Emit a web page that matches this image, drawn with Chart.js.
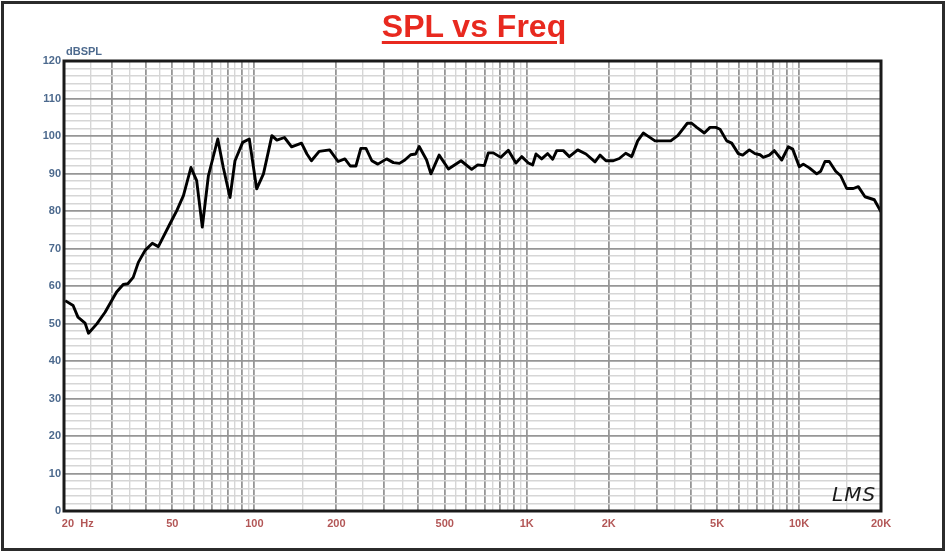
<!DOCTYPE html>
<html>
<head>
<meta charset="utf-8">
<script src="https://cdn.jsdelivr.net/npm/chart.js@4"></script>
<style>
html,body{margin:0;padding:0;background:#fff;}
#wrap{position:relative;width:948px;height:552px;overflow:hidden;background:#fff;}
#frame{position:absolute;left:1px;top:1px;width:944px;height:550px;box-sizing:border-box;border:3px solid #2b2b2b;}
#c{position:absolute;left:0;top:0;}
#title{position:absolute;left:0;top:8px;width:948px;text-align:center;font:bold 32px "Liberation Sans",Arial,sans-serif;color:#e8291f;text-decoration:underline;text-decoration-thickness:3px;text-underline-offset:4px;white-space:nowrap;}
#unit{position:absolute;left:66px;top:45px;font:bold 11px "Liberation Sans",Arial,sans-serif;color:#4d6a8e;}
#logo{position:absolute;left:832px;top:482px;font:italic 200 20px "DejaVu Sans",sans-serif;color:#1a1a1a;letter-spacing:1px;}
</style>
</head>
<body>
<div id="wrap">
  <canvas id="c" width="948" height="552"></canvas>
  <div id="frame"></div>
  <div id="title">SPL vs Freq</div>
  <div id="unit">dBSPL</div>
  <div id="logo">LMS</div>
</div>
<script>
// ---- data ----
const freqHz = [
  20.2, 21.6, 22.5, 23.9, 24.6, 26.4, 28.3, 31.2, 33.0, 34.3, 35.9, 37.5, 39.7, 42.2, 44.4,
  49.0, 51.9, 54.9, 58.5, 61.4, 64.4, 67.8, 73.4, 76.9, 81.4, 84.9, 90.6, 95.8, 102, 108,
  116, 121, 129, 137, 149, 156, 162, 173, 189, 203, 215, 225, 236, 246, 257, 270, 284,
  306, 324, 341, 357, 375, 391, 403, 429, 445, 477, 516, 574, 628, 661, 699, 723, 754,
  803, 856, 913, 959, 1014, 1052, 1082, 1135, 1194, 1246, 1289, 1363, 1434, 1539, 1651,
  1782, 1859, 1955, 2080, 2188, 2310, 2430, 2556, 2680, 2796, 2959, 3158, 3380, 3586,
  3889, 4036, 4211, 4490, 4712, 4944, 5127, 5426, 5660, 5985, 6212, 6568, 6893, 7190,
  7394, 7779, 8115, 8639, 9135, 9481, 10024, 10369, 10908, 11612, 12011, 12456, 12917,
  13635, 14224, 14964, 15823, 16507, 17469, 18899, 20000
];
const splDb = [
  56.1, 54.8, 51.7, 50.1, 47.4, 49.9, 53.0, 58.4, 60.4, 60.6, 62.3, 66.3, 69.5, 71.4, 70.5,
  76.6, 80.1, 84.1, 91.6, 88.1, 75.7, 89.4, 99.2, 91.6, 83.6, 93.4, 98.3, 99.2, 85.9, 89.9,
  100.1, 98.9, 99.6, 97.1, 98.1, 95.2, 93.4, 95.9, 96.3, 93.2, 93.9, 92.0, 92.0, 96.7, 96.7, 93.4, 92.5,
  93.9, 92.9, 92.7, 93.6, 95.0, 95.2, 97.2, 93.6, 89.9, 94.9, 91.2, 93.4, 91.1, 92.3, 92.1, 95.5, 95.5,
  94.3, 96.2, 92.8, 94.5, 92.8, 92.3, 95.2, 93.9, 95.3, 93.8, 96.1, 96.1, 94.5, 96.3, 95.2,
  93.1, 94.9, 93.4, 93.4, 94.0, 95.4, 94.5, 98.7, 100.8, 99.9, 98.7, 98.7, 98.7, 100.1,
  103.4, 103.4, 102.3, 100.8, 102.3, 102.3, 101.8, 98.7, 98.1, 95.3, 94.9, 96.3, 95.3, 95.0,
  94.3, 94.9, 96.1, 93.6, 97.1, 96.5, 91.8, 92.5, 91.5, 89.9, 90.6, 93.2, 93.2,
  90.6, 89.4, 86.0, 86.0, 86.5, 83.8, 83.0, 79.8
];
const xTickValues = [20, 50, 100, 200, 500, 1000, 2000, 5000, 10000, 20000];
const xTickLabels = ['         20  Hz', '50', '100', '200', '500', '1K', '2K', '5K', '10K', '20K'];
const yTickValues = [0, 10, 20, 30, 40, 50, 60, 70, 80, 90, 100, 110, 120];
const yTickLabels = ['0', '10', '20', '30', '40', '50', '60', '70', '80', '90', '100', '110', '120'];

// ---- grid positions (styling) ----
const xGrid = [];
for (let dec = 10; dec <= 10000; dec *= 10) {
  for (let m = 1; m <= 9; m++) {
    [m, m + 0.5].forEach(k => {
      const v = Math.round(k * dec * 10) / 10;
      if (v >= 20 && v <= 20000) xGrid.push(v);
    });
  }
}
xGrid.sort((a, b) => a - b);
const yGrid = [];
for (let v = 0; v <= 120; v += 2) yGrid.push(v);

const isMajorX = v => {
  const p = Math.pow(10, Math.floor(Math.log10(v) + 1e-9));
  const m = v / p;
  return Math.abs(m - Math.round(m)) < 1e-6;
};
const DARK = '#969696', LIGHT = '#d6d6d6';
const xLabelMap = {}; xTickValues.forEach((v, i) => xLabelMap[v] = xTickLabels[i]);
const yLabelMap = {}; yTickValues.forEach((v, i) => yLabelMap[v] = yTickLabels[i]);

const framePlugin = {
  id: 'plotFrame',
  afterDraw(chart) {
    const a = chart.chartArea, ctx = chart.ctx;
    ctx.save();
    ctx.strokeStyle = '#1a1a1a';
    ctx.lineWidth = 3;
    ctx.strokeRect(a.left, a.top, a.right - a.left, a.bottom - a.top);
    ctx.restore();
  }
};

new Chart(document.getElementById('c'), {
  type: 'line',
  data: {
    datasets: [{
      data: freqHz.map((f, i) => ({ x: f, y: splDb[i] })),
      borderColor: '#000',
      borderWidth: 2.9,
      pointRadius: 0,
      tension: 0,
      fill: false,
      borderJoinStyle: 'round'
    }]
  },
  options: {
    responsive: false,
    animation: false,
    devicePixelRatio: 1,
    layout: { padding: { top: 61, right: 67, left: 0, bottom: 0 } },
    plugins: { legend: { display: false }, tooltip: { enabled: false }, title: { display: false } },
    scales: {
      x: {
        type: 'logarithmic',
        min: 20, max: 20000,
        afterBuildTicks: s => { s.ticks = xGrid.map(v => ({ value: v })); },
        afterFit: s => { s.height = 41; },
        border: { display: false },
        grid: {
          drawTicks: false,
          color: c => isMajorX(c.tick.value) ? DARK : LIGHT,
          lineWidth: c => isMajorX(c.tick.value) ? 1.8 : 1.4
        },
        ticks: {
          autoSkip: false, maxRotation: 0, minRotation: 0, padding: 6,
          color: '#b35757',
          font: { family: '"Liberation Sans", Arial, sans-serif', size: 11, weight: 'bold' },
          callback: v => (xLabelMap[v] !== undefined ? xLabelMap[v] : '')
        }
      },
      y: {
        type: 'linear',
        min: 0, max: 120,
        afterBuildTicks: s => { s.ticks = yGrid.map(v => ({ value: v })); },
        afterFit: s => { s.width = 64; },
        border: { display: false },
        grid: {
          drawTicks: false,
          color: c => (c.tick.value % 10 === 0 ? DARK : LIGHT),
          lineWidth: c => (c.tick.value % 10 === 0 ? 1.8 : 1.4)
        },
        ticks: {
          autoSkip: false, padding: 3,
          color: '#4d6a8e',
          font: { family: '"Liberation Sans", Arial, sans-serif', size: 11, weight: 'bold' },
          callback: v => (yLabelMap[v] !== undefined ? yLabelMap[v] : '')
        }
      }
    }
  },
  plugins: [framePlugin]
});
</script>
</body>
</html>
